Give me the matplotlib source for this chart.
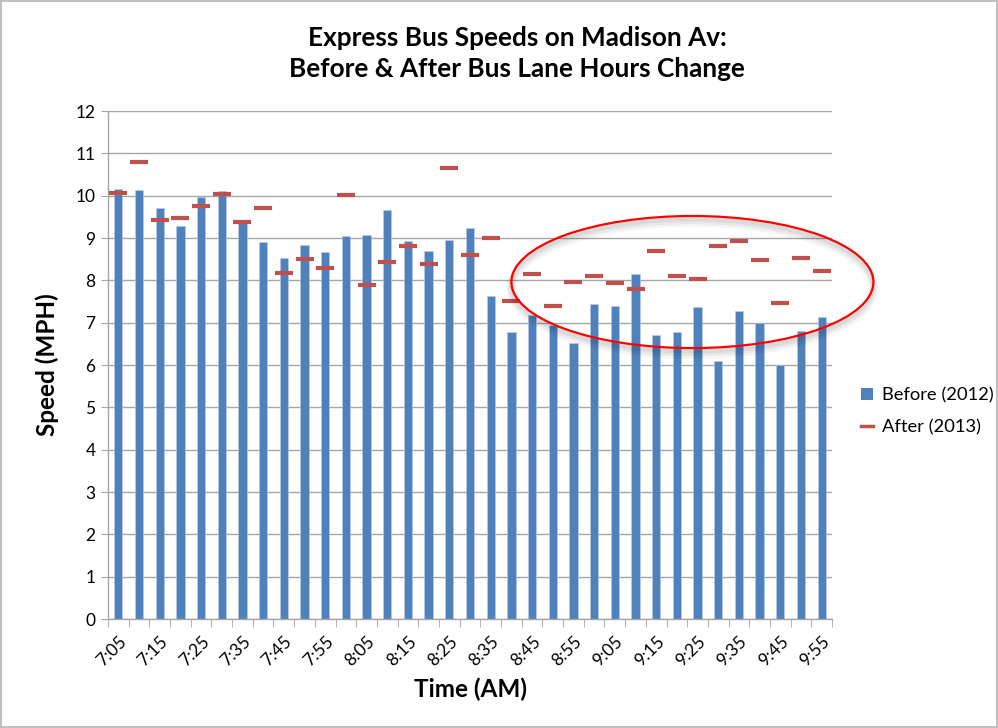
import matplotlib.pyplot as plt
import numpy as np
from matplotlib.patches import Ellipse, Patch
from matplotlib.lines import Line2D

# times 7:05 .. 9:55, every 5 minutes
times = ['7:05', '7:10', '7:15', '7:20', '7:25', '7:30', '7:35', '7:40', '7:45', '7:50',
         '7:55', '8:00', '8:05', '8:10', '8:15', '8:20', '8:25', '8:30', '8:35', '8:40',
         '8:45', '8:50', '8:55', '9:00', '9:05', '9:10', '9:15', '9:20', '9:25', '9:30',
         '9:35', '9:40', '9:45', '9:50', '9:55']

before_2012 = [10.16, 10.13, 9.70, 9.28, 9.98, 10.11, 9.39, 8.91, 8.53, 8.83,
               8.66, 9.04, 9.06, 9.67, 8.94, 8.69, 8.96, 9.23, 7.64, 6.78,
               7.18, 6.95, 6.53, 7.43, 7.40, 8.14, 6.71, 6.79, 7.37, 6.09,
               7.28, 7.00, 5.99, 6.80, 7.13]

after_2013 = [10.06, 10.80, 9.42, 9.47, 9.76, 10.03, 9.39, 9.72, 8.18, 8.50,
              8.29, 10.01, 7.90, 8.44, 8.82, 8.39, 10.65, 8.61, 8.99, 7.51,
              8.14, 7.39, 7.95, 8.10, 7.93, 7.80, 8.70, 8.10, 8.03, 8.80,
              8.94, 8.49, 7.47, 8.52, 8.23]

blue = '#4F81BD'
red = '#C0504D'
grid_col = '#A6A6A6'
font = ['Lato', 'DejaVu Sans']

plt.rcParams['font.family'] = font

fig = plt.figure(figsize=(9.98, 7.28), dpi=100)
fig.patch.set_edgecolor('#BFBFBF')
fig.patch.set_linewidth(1.5)
ax = fig.add_axes([0.1082, 0.1497, 0.7255, 0.6978])

x = np.arange(len(times))
ax.bar(x, before_2012, width=0.4, color=blue, edgecolor='#B9CDE5', linewidth=0.4, zorder=2)
ax.plot(x, after_2013, linestyle='none', marker='_', markersize=13.5,
        markeredgewidth=3.0, color=red, zorder=3)

# highlight ellipse (with a soft shadow)
ell_x, ell_y, ell_w, ell_h = 27.75, 7.96, 17.5, 3.12
for i, a in enumerate([0.06, 0.05, 0.04]):
    ax.add_patch(Ellipse((ell_x, ell_y - 0.08 - 0.03 * i), ell_w, ell_h, fill=False,
                         edgecolor='black', alpha=a, linewidth=3 + 2 * i,
                         clip_on=False, zorder=4))
ax.add_patch(Ellipse((ell_x, ell_y), ell_w, ell_h, fill=False, edgecolor='#FF0000',
                     linewidth=1.6, clip_on=False, zorder=5))

ax.set_xlim(-0.5, len(times) - 0.5)
ax.set_ylim(0, 12)
ax.set_yticks(range(0, 13))
ax.tick_params(axis='y', labelsize=12.5, length=5, color=grid_col, pad=4)

ax.set_xticks(x[::2])
ax.set_xticklabels(times[::2], rotation=45, ha='right', rotation_mode='anchor', fontsize=12.5)
ax.tick_params(axis='x', which='major', length=0, pad=10)
ax.set_xticks(np.arange(-0.5, len(times), 1), minor=True)
ax.tick_params(axis='x', which='minor', length=6, color=grid_col)

ax.grid(True, axis='y', color=grid_col, linewidth=1, zorder=0)
ax.set_axisbelow(True)
for s in ['top', 'right']:
    ax.spines[s].set_visible(False)
for s in ['left', 'bottom']:
    ax.spines[s].set_color(grid_col)
    ax.spines[s].set_linewidth(1)

ax.set_ylabel('Speed (MPH)', fontsize=17.5, fontweight='bold', labelpad=12)
ax.set_xlabel('Time (AM)', fontsize=17.5, fontweight='bold', labelpad=6)
fig.text(0.518, 0.926, 'Express Bus Speeds on Madison Av:\nBefore & After Bus Lane Hours Change',
         ha='center', va='center', fontsize=18.8, fontweight='bold', linespacing=1.35)

handles = [Patch(facecolor=blue, edgecolor='none'),
           Line2D([], [], color=red, linewidth=2.5)]
fig.legend(handles, ['Before (2012)', 'After (2013)'], loc='center left',
           bbox_to_anchor=(0.863, 0.4347), frameon=False, fontsize=13.2,
           handlelength=0.65, handleheight=0.65, handletextpad=0.5, labelspacing=0.85,
           borderpad=0, borderaxespad=0)

fig.savefig('out.png', dpi=100)
